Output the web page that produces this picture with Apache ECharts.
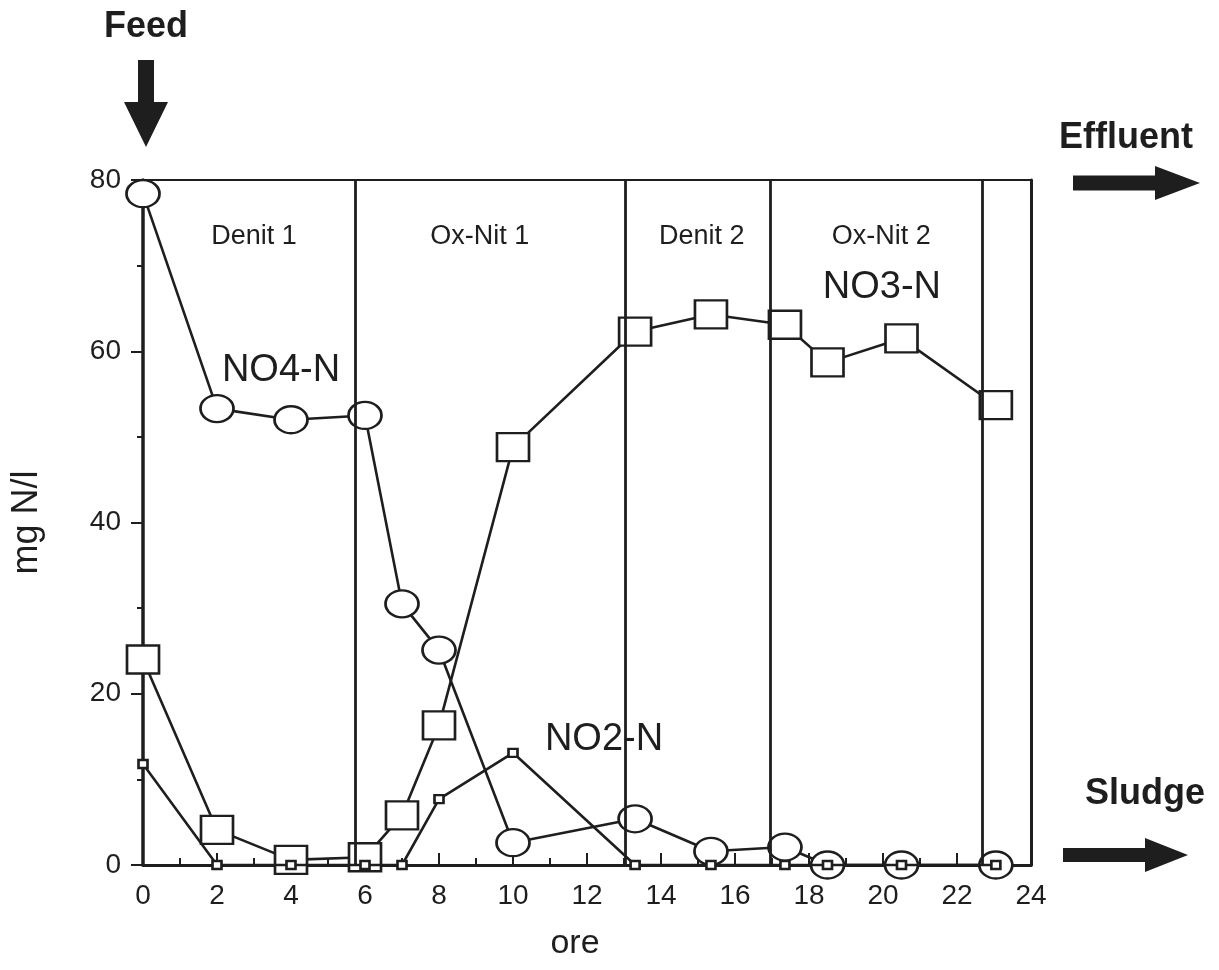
<!DOCTYPE html>
<html lang="it">

<head>
    <meta charset="UTF-8">
    <title>Azoto nei cicli del reattore</title>
    <script src="https://cdn.jsdelivr.net/npm/echarts@6/dist/echarts.min.js"></script>
    <style>
        html, body { margin: 0; padding: 0; background: #ffffff; }
        #myecharts { width: 1219px; height: 970px; }
    </style>
</head>

<body>
    <div id="myecharts"></div>
</body>

<script>
    // sampling times (ore)
    var times = [0, 2, 4, 6, 7, 8, 10, 13.3, 15.35, 17.35, 18.5, 20.5, 23.05];
    // concentrations, mg N/l
    var no4 = [78.4, 53.3, 52.0, 52.5, 30.5, 25.1, 2.6, 5.4, 1.6, 2.1, 0, 0, 0];
    var no3 = [24, 4.1, 0.6, 0.9, 5.8, 16.3, 48.8, 62.3, 64.3, 63.1, 58.7, 61.5, 53.7];
    var no2 = [11.8, 0, 0, 0, 0, 7.7, 13.1, 0, 0, 0, 0, 0, 0];

    // phase boundaries and names
    var phaseBounds = [5.73, 13.03, 16.95, 22.68];
    var phaseNames = ['Denit 1', 'Ox-Nit 1', 'Denit 2', 'Ox-Nit 2'];
    var phaseLabelX = [3.0, 9.1, 15.1, 19.95];
    var phaseLabelY = 73.4;

    // curve labels
    var speciesNames = ['NO4-N', 'NO3-N', 'NO2-N'];
    var speciesLabelX = [3.73, 19.97, 12.46];
    var speciesLabelY = [57.8, 67.4, 14.7];

    // axis ticks
    var xMax = 24, xStep = 2;
    var yMax = 80, yStep = 20;

    var ink = '#1e1e1e';
    var font = '"Liberation Sans", Arial, sans-serif';

    function pairs(xs, ys) {
        return xs.map(function (x, i) { return [x, ys[i]]; });
    }

    var phaseData = phaseNames.map(function (n, i) {
        return { name: n, value: [phaseLabelX[i], phaseLabelY] };
    });
    var speciesData = speciesNames.map(function (n, i) {
        return { name: n, value: [speciesLabelX[i], speciesLabelY[i]] };
    });

    function arrowRight(x0, x1, cy, shaft, headLen, headHalf) {
        return [[x0, cy - shaft / 2], [x1 - headLen, cy - shaft / 2], [x1 - headLen, cy - headHalf],
            [x1, cy], [x1 - headLen, cy + headHalf], [x1 - headLen, cy + shaft / 2], [x0, cy + shaft / 2]];
    }

    let myChart = echarts.init(document.getElementById('myecharts'));

    myChart.setOption({
        animation: false,
        backgroundColor: '#ffffff',
        textStyle: { fontFamily: font, color: ink },
        grid: { left: 143, right: 188, top: 180, bottom: 105, outerBoundsMode: 'none' },
        xAxis: [{
            type: 'value', min: 0, max: xMax, interval: xStep,
            name: 'ore', nameLocation: 'middle', nameGap: 62,
            nameTextStyle: { fontSize: 34, color: ink, fontFamily: font, padding: [0, 24, 0, 0] },
            axisLine: { onZero: false, lineStyle: { color: ink, width: 3 } },
            axisTick: { inside: true, length: 12, lineStyle: { color: ink, width: 2 } },
            minorTick: { show: true, splitNumber: 2, length: 7, lineStyle: { color: ink, width: 2 } },
            axisLabel: { fontSize: 28, color: ink, margin: 17, fontFamily: font },
            splitLine: { show: false }
        }, {
            type: 'value', position: 'top', min: 0, max: xMax,
            axisLine: { onZero: false, lineStyle: { color: ink, width: 2 } },
            axisTick: { show: false }, axisLabel: { show: false }, splitLine: { show: false }
        }],
        yAxis: [{
            type: 'value', min: 0, max: yMax, interval: yStep,
            name: 'mg N/l', nameLocation: 'middle', nameGap: 98, nameRotate: 90,
            nameTextStyle: { fontSize: 36, color: ink, fontFamily: font },
            axisLine: { onZero: false, lineStyle: { color: ink, width: 3.5 } },
            axisTick: { length: 12, lineStyle: { color: ink, width: 2 } },
            minorTick: { show: true, splitNumber: 2, length: 6, lineStyle: { color: ink, width: 2 } },
            axisLabel: { fontSize: 28, color: ink, margin: 22, fontFamily: font },
            splitLine: { show: false }
        }, {
            type: 'value', position: 'right', min: 0, max: yMax,
            axisLine: { onZero: false, lineStyle: { color: ink, width: 3 } },
            axisTick: { show: false }, axisLabel: { show: false }, splitLine: { show: false }
        }],
        series: [
            {
                name: 'NO4-N', type: 'line', clip: false,
                data: pairs(times, no4),
                symbol: 'circle', symbolSize: [33, 27],
                lineStyle: { color: ink, width: 2.6 },
                itemStyle: { color: '#ffffff', borderColor: ink, borderWidth: 2.5 },
                markLine: {
                    silent: true, symbol: ['none', 'none'], label: { show: false },
                    lineStyle: { color: ink, width: 2.8, type: 'solid' },
                    data: phaseBounds.map(function (v) { return { xAxis: v }; })
                },
                z: 3
            },
            {
                name: 'NO3-N', type: 'line', clip: false,
                data: pairs(times, no3),
                symbol: 'rect', symbolSize: [32, 28],
                lineStyle: { color: ink, width: 2.6 },
                itemStyle: { color: '#ffffff', borderColor: ink, borderWidth: 2.5 },
                z: 3
            },
            {
                name: 'NO2-N', type: 'line', clip: false,
                data: pairs(times, no2),
                symbol: 'rect', symbolSize: [9, 8],
                lineStyle: { color: ink, width: 2.6 },
                itemStyle: { color: '#ffffff', borderColor: ink, borderWidth: 2.5 },
                z: 4
            },
            {
                // phase names
                type: 'scatter', silent: true, data: phaseData,
                symbolSize: 1, itemStyle: { color: 'rgba(0,0,0,0)', opacity: 1 },
                label: { show: true, position: 'inside', formatter: '{b}', fontSize: 27, color: ink, fontFamily: font },
                z: 5
            },
            {
                // curve names
                type: 'scatter', silent: true, data: speciesData,
                symbolSize: 1, itemStyle: { color: 'rgba(0,0,0,0)', opacity: 1 },
                label: { show: true, position: 'inside', formatter: '{b}', fontSize: 38, color: ink, fontFamily: font },
                z: 5
            }
        ],
        graphic: [
            { type: 'text', x: 146, y: 27, style: { text: 'Feed', font: 'bold 36px ' + font, fill: ink, align: 'center', verticalAlign: 'middle' } },
            { type: 'polygon', shape: { points: [[138, 60], [154, 60], [154, 102], [168, 102], [146, 147], [124, 102], [138, 102]] }, style: { fill: ink } },
            { type: 'text', x: 1126, y: 138, style: { text: 'Effluent', font: 'bold 36px ' + font, fill: ink, align: 'center', verticalAlign: 'middle' } },
            { type: 'polygon', shape: { points: arrowRight(1073, 1200, 183, 15, 45, 17) }, style: { fill: ink } },
            { type: 'text', x: 1145, y: 794, style: { text: 'Sludge', font: 'bold 36px ' + font, fill: ink, align: 'center', verticalAlign: 'middle' } },
            { type: 'polygon', shape: { points: arrowRight(1063, 1188, 855, 14, 43, 17) }, style: { fill: ink } }
        ]
    });
</script>

</html>
